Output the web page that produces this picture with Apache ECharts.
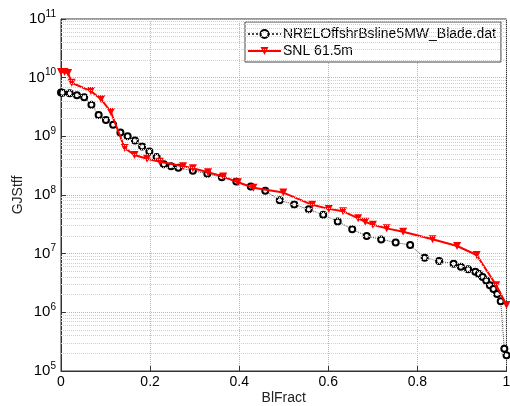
<!DOCTYPE html>
<html><head><meta charset="utf-8">
<script src="https://cdn.jsdelivr.net/npm/echarts@6/dist/echarts.min.js"></script>
<style>html,body{margin:0;padding:0;background:#fff}#c{width:510px;height:406px}</style>
</head><body><div id="c"></div>
<script>
// NRELOffshrBsline5MW_Blade.dat : BlFract vs GJStff
const nrelX = [0.00000,0.00325,0.01951,0.03577,0.05203,0.06829,0.08455,0.10081,0.11707,0.13335,
  0.14959,0.16585,0.18211,0.19837,0.21465,0.23089,0.24715,0.26341,0.29595,0.32846,
  0.36098,0.39350,0.42602,0.45855,0.49106,0.52358,0.55610,0.58862,0.62115,0.65366,
  0.68618,0.71870,0.75122,0.78374,0.81626,0.84878,0.88130,0.89756,0.91382,0.93008,
  0.93821,0.94636,0.95447,0.96260,0.97073,0.97886,0.98699,0.99512,1.00000];
const nrelY = [5.6e9,5.55e9,5.4e9,5.0e9,4.65e9,3.45e9,2.32e9,1.9e9,1.57e9,1.16e9,
  1.0e9,8.5e8,6.7e8,5.5e8,4.45e8,3.35e8,3.1e8,2.9e8,2.6e8,2.3e8,
  2.0e8,1.7e8,1.4e8,1.18e8,8.1e7,6.9e7,5.7e7,4.6e7,3.55e7,2.6e7,
  2.0e7,1.75e7,1.55e7,1.4e7,8.5e6,7.5e6,6.7e6,6.0e6,5.4e6,4.9e6,
  4.5e6,4.0e6,3.5e6,2.9e6,2.5e6,2.05e6,1.55e6,2.4e5,1.85e5];
// SNL 61.5m
const snlX = [0,0.008,0.016,0.024,0.067,0.090,0.112,0.143,0.165,0.193,
  0.222,0.274,0.296,0.330,0.364,0.397,0.432,0.499,0.564,0.601,
  0.633,0.667,0.683,0.700,0.731,0.768,0.834,0.889,0.933,0.977,1.0];
const snlY = [1.25e10,1.25e10,1.2e10,8.2e9,5.9e9,4.3e9,2.6e9,6.3e8,4.8e8,4.15e8,
  3.7e8,3.1e8,2.85e8,2.44e8,2.06e8,1.65e8,1.33e8,1.1e8,6.8e7,5.8e7,
  5.3e7,4.0e7,3.5e7,3.1e7,2.7e7,2.37e7,1.76e7,1.35e7,9.5e6,2.9e6,1.33e6];
const seriesNames = ['NRELOffshrBsline5MW_Blade.dat','SNL 61.5m'];
const xTickLabels = ['0','0.2','0.4','0.6','0.8','1'];
const yMinExp = 5, yMaxExp = 11;

const FONT = 'Liberation Sans, Arial, sans-serif';
// log minor grid positions (2..9 x 10^n)
const minorGrid = [];
for (let e = yMinExp; e < yMaxExp; e++) for (let k = 2; k <= 9; k++) minorGrid.push({yAxis: k * Math.pow(10, e)});

const chart = echarts.init(document.getElementById('c'), null, {renderer: 'canvas'});
chart.setOption({
  animation: false,
  backgroundColor: '#fff',
  textStyle: {fontFamily: FONT},
  grid: {left: 61, right: 3.5, top: 19, bottom: 35, show: true, borderColor: '#333', borderWidth: 1,
    containLabel: false, outerBoundsMode: 'none'},
  legend: {
    data: seriesNames, orient: 'vertical', left: 245, top: 22,
    itemWidth: 33, itemHeight: 10, itemGap: 3, padding: [5, 5, 4, 2],
    borderColor: '#444', borderWidth: 1, backgroundColor: '#fff',
    textStyle: {fontFamily: FONT, fontSize: 14, color: '#000', padding: [0, 0, 0, -3]}
  },
  xAxis: {
    type: 'value', min: 0, max: 1, interval: 0.2,
    name: 'BlFract', nameLocation: 'middle', nameGap: 20, nameMoveOverlap: false,
    nameTextStyle: {fontFamily: FONT, fontSize: 14, color: '#222'},
    axisLine: {show: true, lineStyle: {color: '#333'}},
    axisTick: {inside: true, length: 5, lineStyle: {color: '#333'}},
    axisLabel: {fontFamily: FONT, fontSize: 14, color: '#000', margin: 4,
      formatter: v => xTickLabels[Math.round(v / 0.2)]},
    splitLine: {show: true, lineStyle: {type: 'dotted', color: '#b8b8b8'}}
  },
  yAxis: {
    type: 'log', logBase: 10, min: Math.pow(10, yMinExp), max: Math.pow(10, yMaxExp), splitNumber: 6,
    name: 'GJStff', nameLocation: 'middle', nameGap: 36, nameRotate: 90, nameMoveOverlap: false,
    nameTextStyle: {fontFamily: FONT, fontSize: 14, color: '#222'},
    axisLine: {show: true, lineStyle: {color: '#333'}},
    axisTick: {inside: true, length: 5, lineStyle: {color: '#333'}},
    axisLabel: {
      margin: 5, showMinLabel: true, showMaxLabel: true,
      formatter: v => '{b|10}{s|' + Math.round(Math.log10(v)) + '}',
      rich: {
        b: {fontFamily: FONT, fontSize: 15, color: '#000'},
        s: {fontFamily: FONT, fontSize: 10, color: '#000', padding: [0, 0, 10, 0]}
      }
    },
    splitLine: {show: true, lineStyle: {type: 'dotted', color: '#b8b8b8'}}
  },
  series: [
    {
      name: 'minorgrid', type: 'line', data: [], silent: true, z: 1,
      markLine: {silent: true, symbol: ['none', 'none'], label: {show: false},
        lineStyle: {type: 'dotted', color: '#cfcfcf', width: 1}, data: minorGrid}
    },
    {
      name: seriesNames[0], type: 'line', z: 3,
      data: nrelX.map((x, i) => [x, nrelY[i]]),
      symbol: 'emptyCircle', symbolSize: 6,
      lineStyle: {type: 'dotted', color: '#444', width: 1},
      itemStyle: {color: '#000', borderColor: '#000', borderWidth: 1.8}
    },
    {
      name: seriesNames[1], type: 'line', z: 4,
      data: snlX.map((x, i) => [x, snlY[i]]),
      symbol: 'triangle', symbolRotate: 180, symbolSize: 8,
      lineStyle: {type: 'solid', color: '#ff0000', width: 2},
      itemStyle: {color: '#ff0000'}
    }
  ]
});
</script>
</body></html>
